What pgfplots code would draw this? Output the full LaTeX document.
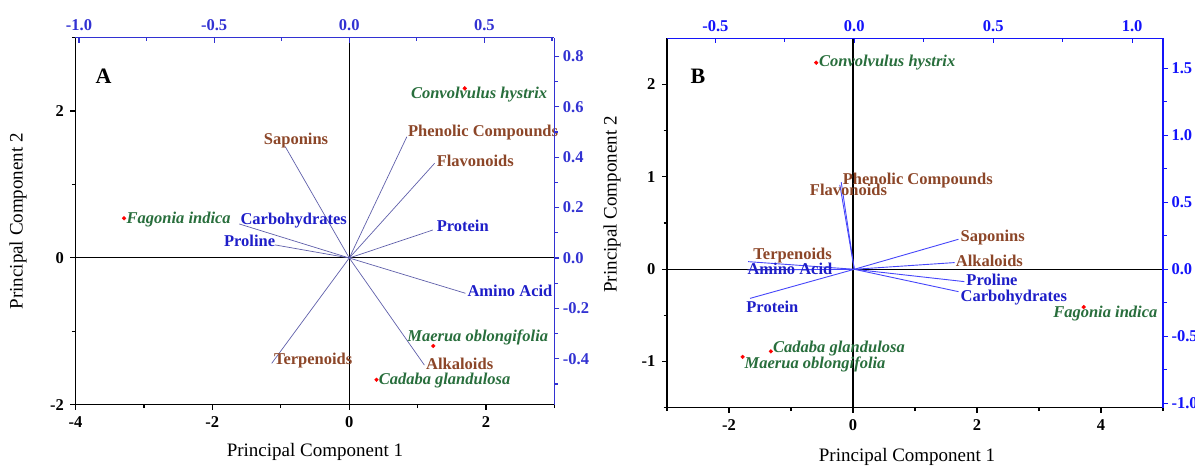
\documentclass[border=0pt]{standalone}
\usepackage{fontspec}
\setmainfont{Liberation Serif}
\usepackage{pgfplots}
\pgfplotsset{compat=1.18}
\definecolor{brownLab}{RGB}{140,70,40}
\definecolor{blueLab}{RGB}{30,30,200}
\definecolor{greenLab}{RGB}{40,110,60}
\definecolor{lineA}{RGB}{95,95,170}
\definecolor{lineB}{RGB}{70,70,250}
\definecolor{axA}{RGB}{50,50,210}
\definecolor{axB}{RGB}{20,20,250}
\newcommand{\tfont}{\fontsize{16.5}{19}\bfseries\selectfont}
\newcommand{\vfont}{\fontsize{16.5}{19}\bfseries\selectfont}
\newcommand{\sfont}{\fontsize{16.5}{19}\bfseries\itshape\selectfont}
\newcommand{\lfont}{\fontsize{19}{22}\selectfont}
\pgfplotsset{
  base/.style={scale only axis, anchor=south west,
    /pgf/number format/assume math mode=true,
    tick label style={font=\tfont},
    major tick length=5pt, minor tick length=3.5pt,
    axis line style={-, line width=1.5pt},
    tick style={line width=1.2pt},
    clip=false},
}
\begin{document}
\begin{tikzpicture}
\path[use as bounding box] (0,0) rectangle (1195pt,466pt);
% ================= Panel A =================
\begin{axis}[base, at={(75.5pt,61.3pt)}, width=478.9pt, height=367pt,
  xmin=-4, xmax=3, ymin=-2, ymax=3,
  axis x line*=bottom, axis y line*=left,
  axis line style={black},
  xtick={-4,-2,0,2}, minor xtick={-3,-1,1,3},
  ytick={-2,0,2}, minor ytick={-1,1,3},
  xticklabel style={yshift=-3pt}, yticklabel style={xshift=-3pt},
  tick align=outside, tick style={black},
  xlabel={Principal Component 1}, ylabel={Principal Component 2},
  label style={font=\lfont},
  xlabel style={at={(axis description cs:0.5,-0.128)}, anchor=center},
  ylabel style={at={(axis description cs:-0.120,0.5)}, anchor=center},
]
\addplot[black, line width=1.2pt] coordinates {(-4,0) (3,0)};
\addplot[black, line width=1.2pt] coordinates {(0,-2) (0,3)};
\addplot[only marks, mark=*, mark size=1.9pt, red] coordinates {(1.69,2.31) (-3.29,0.54) (1.23,-1.20) (0.40,-1.66)};
\node[font=\sfont, text=greenLab, inner sep=0pt] at (axis cs:1.90,2.22) {Convolvulus hystrix};
\node[font=\sfont, text=greenLab, inner sep=0pt, anchor=west] at (axis cs:-3.255,0.528) {Fagonia indica};
\node[font=\sfont, text=greenLab, inner sep=0pt] at (axis cs:1.88,-1.08) {Maerua oblongifolia};
\node[font=\sfont, text=greenLab, inner sep=0pt, anchor=west] at (axis cs:0.43,-1.674) {Cadaba glandulosa};
\node[font=\fontsize{22}{25}\bfseries\selectfont, inner sep=0pt] at (axis cs:-3.59,2.48) {A};
\end{axis}
\begin{axis}[base, at={(75.5pt,61.3pt)}, width=478.9pt, height=367pt,
  xmin=-1.013, xmax=0.759, ymin=-0.582, ymax=0.874,
  axis x line*=top, axis y line=none,
  axis line style={axA},
  xtick={-1,-0.5,0,0.5}, minor xtick={-0.75,-0.25,0.25,0.75},
  xticklabel style={text=axA, yshift=3pt, /pgf/number format/.cd, fixed, fixed zerofill, precision=1},
  tick align=inside, tick style={axA},
]
\foreach \x/\y in {-0.237/0.442, 0.213/0.481, 0.316/0.376, 0.309/0.111, -0.407/0.135, -0.275/0.052, 0.43/-0.14, 0.278/-0.425, -0.287/-0.418}{
  \edef\tmp{\noexpand\addplot[lineA, line width=0.7pt] coordinates {(0,0) (\x,\y)};}\tmp
}
\node[font=\vfont, text=brownLab, inner sep=0pt] at (axis cs:-0.197,0.468) {Saponins};
\node[font=\vfont, text=brownLab, inner sep=0pt, anchor=west] at (axis cs:0.217,0.496) {Phenolic Compounds};
\node[font=\vfont, text=brownLab, inner sep=0pt, anchor=west] at (axis cs:0.323,0.385) {Flavonoids};
\node[font=\vfont, text=brownLab, inner sep=0pt, anchor=west] at (axis cs:0.284,-0.418) {Alkaloids};
\node[font=\vfont, text=brownLab, inner sep=0pt, anchor=west] at (axis cs:-0.279,-0.408) {Terpenoids};
\node[font=\vfont, text=blueLab, inner sep=0pt, anchor=west] at (axis cs:-0.403,0.147) {Carbohydrates};
\node[font=\vfont, text=blueLab, inner sep=0pt, anchor=west] at (axis cs:-0.464,0.069) {Proline};
\node[font=\vfont, text=blueLab, inner sep=0pt, anchor=west] at (axis cs:0.323,0.127) {Protein};
\node[font=\vfont, text=blueLab, inner sep=0pt, anchor=west] at (axis cs:0.437,-0.131) {Amino Acid};
\end{axis}
\begin{axis}[base, at={(75.5pt,61.3pt)}, width=478.9pt, height=367pt,
  xmin=0, xmax=1, ymin=-0.582, ymax=0.874,
  axis x line=none, axis y line*=right,
  axis line style={axA},
  ytick={-0.4,-0.2,0,0.2,0.4,0.6,0.8}, minor ytick={-0.5,-0.3,-0.1,0.1,0.3,0.5,0.7},
  yticklabel style={text=axA, /pgf/number format/.cd, fixed, fixed zerofill, precision=1},
  tick align=outside, tick style={axA},
]
\addplot[draw=none] coordinates {(0.5,0)};
\end{axis}
% ================= Panel B =================
\begin{axis}[base, at={(667pt,58.3pt)}, width=496pt, height=369.4pt,
  xmin=-3, xmax=5, ymin=-1.5, ymax=2.5,
  axis x line*=bottom, axis y line*=left,
  axis line style={black},
  xtick={-2,0,2,4}, minor xtick={-3,-1,1,3,5},
  ytick={-1,0,1,2}, minor ytick={-1.5,-0.5,0.5,1.5},
  xticklabel style={yshift=-3pt}, yticklabel style={xshift=-3pt},
  tick align=outside, tick style={black},
  xlabel={Principal Component 1}, ylabel={Principal Component 2},
  label style={font=\lfont},
  xlabel style={at={(axis description cs:0.484,-0.133)}, anchor=center},
  ylabel style={at={(axis description cs:-0.111,0.55)}, anchor=center},
]
\addplot[black, line width=1.2pt] coordinates {(-3,0) (5,0)};
\addplot[black, line width=1.2pt] coordinates {(0,-1.5) (0,2.5)};
\addplot[only marks, mark=*, mark size=1.9pt, red] coordinates {(-0.594,2.236) (3.72,-0.41) (-1.325,-0.89) (-1.78,-0.95)};
\node[font=\sfont, text=greenLab, inner sep=0pt, anchor=west] at (axis cs:-0.55,2.236) {Convolvulus hystrix};
\node[font=\sfont, text=greenLab, inner sep=0pt] at (axis cs:4.07,-0.484) {Fagonia indica};
\node[font=\sfont, text=greenLab, inner sep=0pt, anchor=west] at (axis cs:-1.29,-0.855) {Cadaba glandulosa};
\node[font=\sfont, text=greenLab, inner sep=0pt, anchor=west] at (axis cs:-1.75,-1.036) {Maerua oblongifolia};
\node[font=\fontsize{22}{25}\bfseries\selectfont, inner sep=0pt] at (axis cs:-2.5,2.09) {B};
\end{axis}
\begin{axis}[base, at={(667pt,58.3pt)}, width=496pt, height=369.4pt,
  xmin=-0.674, xmax=1.111, ymin=-1.033, ymax=1.724,
  axis x line*=top, axis y line=none,
  axis line style={axB},
  xtick={-0.5,0,0.5,1}, minor xtick={-0.25,0.25,0.75},
  xticklabel style={text=axB, yshift=3pt, /pgf/number format/.cd, fixed, fixed zerofill, precision=1},
  tick align=inside, tick style={axB},
]
\foreach \x/\y in {-0.047/0.65, -0.052/0.63, 0.375/0.224, 0.361/0.05, 0.396/-0.092, 0.375/-0.167, -0.382/0.057, -0.385/-0.005, -0.375/-0.217}{
  \edef\tmp{\noexpand\addplot[lineB, line width=0.9pt] coordinates {(0,0) (\x,\y)};}\tmp
}
\node[font=\vfont, text=brownLab, inner sep=0pt, anchor=west] at (axis cs:-0.042,0.666) {Phenolic Compounds};
\node[font=\vfont, text=brownLab, inner sep=0pt] at (axis cs:-0.021,0.592) {Flavonoids};
\node[font=\vfont, text=brownLab, inner sep=0pt, anchor=west] at (axis cs:0.382,0.239) {Saponins};
\node[font=\vfont, text=brownLab, inner sep=0pt, anchor=west] at (axis cs:0.365,0.062) {Alkaloids};
\node[font=\vfont, text=brownLab, inner sep=0pt] at (axis cs:-0.222,0.099) {Terpenoids};
\node[font=\vfont, text=blueLab, inner sep=0pt, anchor=west] at (axis cs:0.403,-0.08) {Proline};
\node[font=\vfont, text=blueLab, inner sep=0pt, anchor=west] at (axis cs:0.382,-0.209) {Carbohydrates};
\node[font=\vfont, text=blueLab, inner sep=0pt, anchor=west] at (axis cs:-0.385,0.0) {Amino Acid};
\node[font=\vfont, text=blueLab, inner sep=0pt, anchor=west] at (axis cs:-0.389,-0.284) {Protein};
\end{axis}
\begin{axis}[base, at={(667pt,58.3pt)}, width=496pt, height=369.4pt,
  xmin=0, xmax=1, ymin=-1.033, ymax=1.724,
  axis x line=none, axis y line*=right,
  axis line style={axB},
  ytick={-1,-0.5,0,0.5,1,1.5}, minor ytick={-0.75,-0.25,0.25,0.75,1.25},
  yticklabel style={text=axB, /pgf/number format/.cd, fixed, fixed zerofill, precision=1},
  tick align=outside, tick style={axB},
]
\addplot[draw=none] coordinates {(0.5,0)};
\end{axis}
\end{tikzpicture}
\end{document}
